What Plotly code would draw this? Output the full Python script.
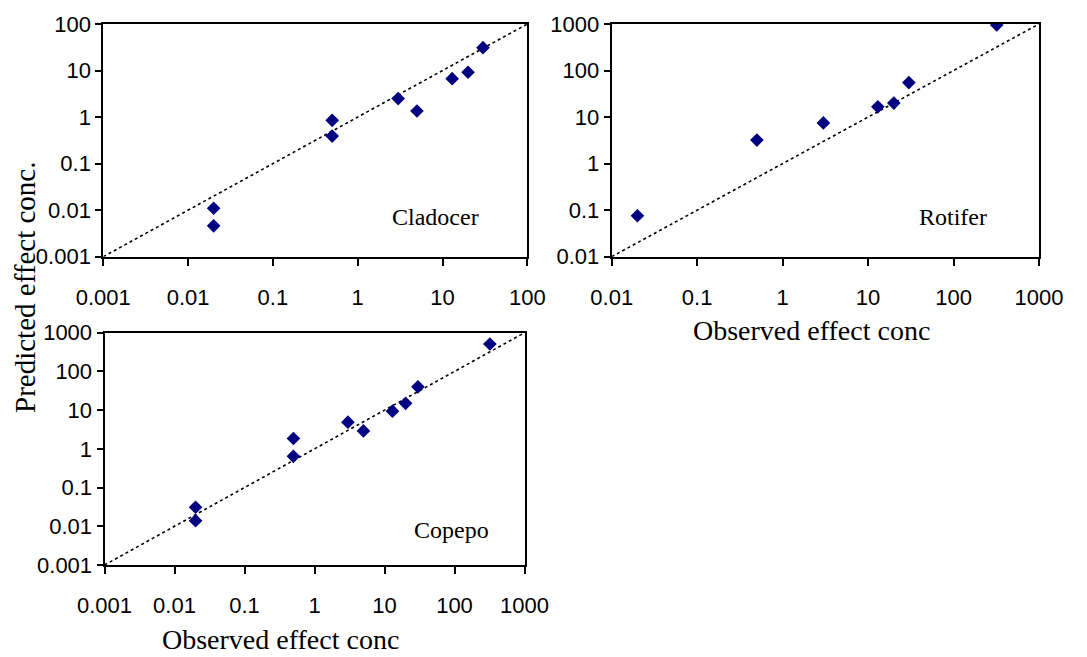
import math
import plotly.graph_objects as go

# ---- data ----
clad_obs = [0.02, 0.02, 0.5, 0.5, 3, 5, 13, 20, 30]
clad_pred = [0.011, 0.0046, 0.85, 0.39, 2.5, 1.35, 6.7, 9.2, 31]

rot_obs = [0.02, 0.5, 3, 13, 20, 30, 320]
rot_pred = [0.076, 3.2, 7.5, 16.6, 20, 55, 950]

cop_obs = [0.02, 0.02, 0.5, 0.5, 3, 5, 13, 20, 30, 320]
cop_pred = [0.031, 0.014, 1.85, 0.64, 4.9, 2.9, 9.4, 15, 40, 510]

ticks_clad = [0.001, 0.01, 0.1, 1, 10, 100]
ticks_rot = [0.01, 0.1, 1, 10, 100, 1000]
ticks_cop = [0.001, 0.01, 0.1, 1, 10, 100, 1000]
labels_clad = ["0.001", "0.01", "0.1", "1", "10", "100"]
labels_rot = ["0.01", "0.1", "1", "10", "100", "1000"]
labels_cop = ["0.001", "0.01", "0.1", "1", "10", "100", "1000"]

panel_names = ["Cladocer", "Rotifer", "Copepo"]
x_title = "Observed effect conc"
y_title = "Predicted effect conc."

W, H = 1087, 657
MARK = "#000080"

fig = go.Figure()

def add_panel(obs, pred, lo, hi, xa, ya):
    fig.add_trace(go.Scatter(x=[lo, hi], y=[lo, hi], mode="lines",
                             line=dict(color="black", width=1.6, dash="dot"),
                             xaxis=xa, yaxis=ya, showlegend=False, hoverinfo="skip"))
    fig.add_trace(go.Scatter(x=obs, y=pred, mode="markers",
                             marker=dict(symbol="diamond", size=10.5, color=MARK,
                                         line=dict(width=0)),
                             xaxis=xa, yaxis=ya, showlegend=False))

add_panel(clad_obs, clad_pred, ticks_clad[0], ticks_clad[-1], "x", "y")
add_panel(rot_obs, rot_pred, ticks_rot[0], ticks_rot[-1], "x2", "y2")
add_panel(cop_obs, cop_pred, ticks_cop[0], ticks_cop[-1], "x3", "y3")

tickfont = dict(family="Liberation Sans, Arial, sans-serif", size=22, color="black")

def axis_cfg(dom, anchor, tv, tt, is_x):
    d = dict(type="log", domain=dom, anchor=anchor, automargin=False,
             range=[math.log10(tv[0]), math.log10(tv[-1])],
             tickvals=tv, ticktext=tt, tickfont=tickfont,
             showline=True, linecolor="black", linewidth=2, mirror=True,
             ticks="outside", ticklen=7 if is_x else 6, tickwidth=1.5,
             tickcolor="black", showgrid=False, zeroline=False)
    if is_x:
        d["ticklabelstandoff"] = 13
    return d

top_dom = [1 - 256.7 / H, 1 - 24 / H]
bot_dom = [1 - 565 / H, 1 - 332.7 / H]

fig.update_layout(
    template="none",
    width=W, height=H,
    margin=dict(l=0, r=0, t=0, b=0),
    paper_bgcolor="white", plot_bgcolor="white",
    xaxis=axis_cfg([103.3 / W, 527.3 / W], "y", ticks_clad, labels_clad, True),
    yaxis=axis_cfg(top_dom, "x", ticks_clad, labels_clad, False),
    xaxis2=axis_cfg([611.7 / W, 1039 / W], "y2", ticks_rot, labels_rot, True),
    yaxis2=axis_cfg(top_dom, "x2", ticks_rot, labels_rot, False),
    xaxis3=axis_cfg([104.5 / W, 524.5 / W], "y3", ticks_cop, labels_cop, True),
    yaxis3=axis_cfg(bot_dom, "x3", ticks_cop, labels_cop, False),
)

serif = "Liberation Serif, Times New Roman, serif"
ann = [
    dict(text=panel_names[0], x=435.5 / W, y=1 - 217 / H, size=24),
    dict(text=panel_names[1], x=953 / W, y=1 - 217 / H, size=24),
    dict(text=panel_names[2], x=451 / W, y=1 - 530 / H, size=24),
    dict(text=x_title, x=811 / W, y=1 - 330 / H, size=28),
    dict(text=x_title, x=280 / W, y=1 - 639 / H, size=28),
]
for a in ann:
    fig.add_annotation(text=a["text"], x=a["x"], y=a["y"], xref="paper", yref="paper",
                       xanchor="center", yanchor="middle", showarrow=False,
                       font=dict(family=serif, size=a["size"], color="black"))
fig.add_annotation(text=y_title, x=25 / W, y=1 - 288 / H, xref="paper", yref="paper",
                   xanchor="center", yanchor="middle", showarrow=False, textangle=-90,
                   font=dict(family=serif, size=29, color="black"))

fig.write_html("out.html")
